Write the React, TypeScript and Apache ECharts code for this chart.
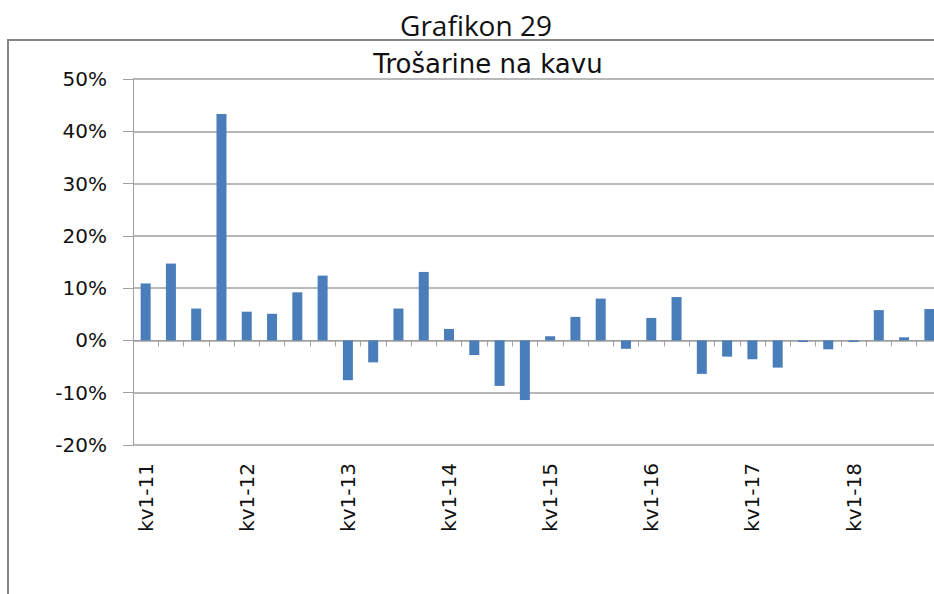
import React, { useEffect, useRef } from "react";
import * as echarts from "echarts";

const years = ["11", "12", "13", "14", "15", "16", "17", "18"];
const quarters = ["kv1", "kv2", "kv3", "kv4"];
const categories: string[] = years.flatMap((y) => quarters.map((q) => `${q}-${y}`));

const values = [
  10.9, 14.7, 6.1, 43.3,
  5.5, 5.1, 9.2, 12.4,
  -7.6, -4.2, 6.1, 13.1,
  2.2, -2.8, -8.7, -11.4,
  0.8, 4.5, 8.0, -1.6,
  4.3, 8.3, -6.4, -3.1,
  -3.6, -5.2, -0.3, -1.7,
  -0.3, 5.8, 0.6, 6.0,
];

const yMin = -20;
const yMax = 50;
const yStep = 10;

const pageTitle = "Grafikon 29";
const chartTitle = "Trošarine na kavu";

export default function App() {
  const ref = useRef<HTMLDivElement>(null);
  useEffect(() => {
    if (!ref.current) return;
    const chart = echarts.init(ref.current, null, { renderer: "svg" });
    const font = "DejaVu Sans, Verdana, sans-serif";
    const grey = "#a0a0a0";
    chart.setOption({
      animation: false,
      backgroundColor: "#ffffff",
      graphic: [
        {
          type: "polyline",
          shape: { points: [[8, 640], [8, 40], [1000, 40]] },
          style: { fill: "none", stroke: "#858585", lineWidth: 2 },
        },
        {
          type: "text",
          x: 476,
          y: 25,
          style: {
            text: pageTitle,
            font: "28px 'Open Sans', sans-serif",
            fill: "#111",
            align: "center",
            verticalAlign: "middle",
          },
        },
        {
          type: "text",
          x: 488,
          y: 64,
          style: {
            text: chartTitle,
            font: `26px ${font}`,
            fill: "#111",
            align: "center",
            verticalAlign: "middle",
          },
        },
      ],
      grid: { left: 133, top: 79, bottom: 149, right: 8 },
      xAxis: [
        {
          type: "category",
          data: categories,
          position: "bottom",
          axisLine: { show: false, onZero: false },
          axisTick: { show: false },
          splitLine: { show: false },
          axisLabel: {
            interval: 3,
            rotate: 90,
            margin: 18,
            fontSize: 20,
            fontFamily: font,
            color: "#111",
          },
        },
        {
          type: "category",
          data: categories,
          position: "bottom",
          axisLine: { show: true, onZero: true, lineStyle: { color: grey, width: 1 } },
          axisTick: { show: true, interval: 0, length: 6, lineStyle: { color: grey } },
          axisLabel: { show: false },
          splitLine: { show: false },
        },
      ],
      yAxis: {
        type: "value",
        min: yMin,
        max: yMax,
        interval: yStep,
        axisLine: { show: true, lineStyle: { color: grey, width: 1 } },
        axisTick: { show: true, length: 10, lineStyle: { color: grey } },
        splitLine: { show: true, lineStyle: { color: grey, width: 1.5 } },
        axisLabel: {
          formatter: "{value}%",
          margin: 26,
          fontSize: 20,
          fontFamily: font,
          color: "#111",
        },
      },
      series: [
        {
          type: "bar",
          xAxisIndex: 0,
          data: values,
          barWidth: 10,
          itemStyle: { color: "#4a7ebb" },
        },
      ],
    });
    return () => chart.dispose();
  }, []);
  return (
    <div
      style={{
        position: "fixed",
        left: 0,
        top: 0,
        width: 934,
        height: 594,
        overflow: "hidden",
        background: "#fff",
      }}
    >
      <div ref={ref} style={{ width: 950, height: 594 }} />
    </div>
  );
}
